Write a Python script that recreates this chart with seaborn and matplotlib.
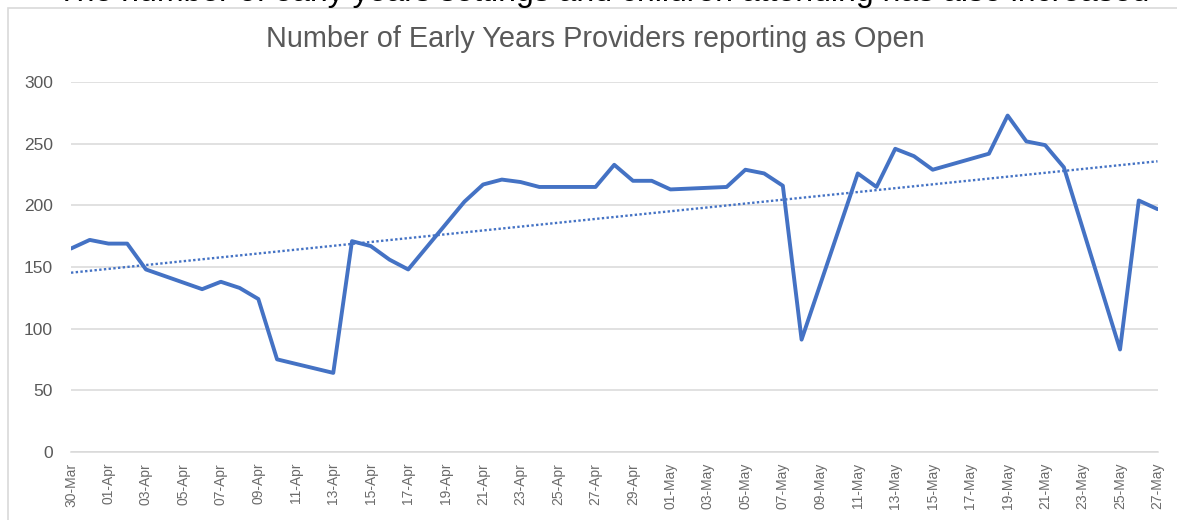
import pandas as pd
import matplotlib.pyplot as plt
from matplotlib.patches import Rectangle
import seaborn as sns

# Daily counts (weekdays only)
dates = [
    '2020-03-30', '2020-03-31', '2020-04-01', '2020-04-02', '2020-04-03',
    '2020-04-06', '2020-04-07', '2020-04-08', '2020-04-09', '2020-04-10',
    '2020-04-13', '2020-04-14', '2020-04-15', '2020-04-16', '2020-04-17',
    '2020-04-20', '2020-04-21', '2020-04-22', '2020-04-23', '2020-04-24',
    '2020-04-27', '2020-04-28', '2020-04-29', '2020-04-30', '2020-05-01',
    '2020-05-04', '2020-05-05', '2020-05-06', '2020-05-07', '2020-05-08',
    '2020-05-11', '2020-05-12', '2020-05-13', '2020-05-14', '2020-05-15',
    '2020-05-18', '2020-05-19', '2020-05-20', '2020-05-21', '2020-05-22',
    '2020-05-25', '2020-05-26', '2020-05-27',
]
providers = [
    165, 172, 169, 169, 148,
    132, 138, 133, 124, 75,
    64, 171, 167, 156, 148,
    203, 217, 221, 219, 215,
    215, 233, 220, 220, 213,
    215, 229, 226, 216, 91,
    226, 215, 246, 240, 229,
    242, 273, 252, 249, 231,
    83, 204, 197,
]
tick_labels = [
    '30-Mar', '01-Apr', '03-Apr', '05-Apr', '07-Apr', '09-Apr', '11-Apr',
    '13-Apr', '15-Apr', '17-Apr', '19-Apr', '21-Apr', '23-Apr', '25-Apr',
    '27-Apr', '29-Apr', '01-May', '03-May', '05-May', '07-May', '09-May',
    '11-May', '13-May', '15-May', '17-May', '19-May', '21-May', '23-May',
    '25-May', '27-May',
]
y_ticks = [0, 50, 100, 150, 200, 250, 300]

df = pd.DataFrame({'date': pd.to_datetime(dates), 'providers': providers})
df['day'] = (df['date'] - df['date'].iloc[0]).dt.days

sns.set_style('white')
plt.rcParams['font.family'] = ['Liberation Sans', 'DejaVu Sans']

blue = '#4472C4'
grey_txt = '#595959'
grey_line = '#D9D9D9'

W, H = 1177, 520
fig = plt.figure(figsize=(W / 100, H / 100), dpi=100)
ax = fig.add_axes([71 / W, 1 - 451.7 / H, (1157.5 - 71) / W, (451.7 - 82.3) / H])

sns.lineplot(data=df, x='day', y='providers', color=blue, linewidth=2.8, ax=ax)
# linear trendline over the date axis
sns.regplot(data=df, x='day', y='providers', scatter=False, ci=None, color=blue,
            line_kws=dict(linestyle=(0, (1, 1)), linewidth=1.7), ax=ax)

ax.set_xlim(0, 58)
ax.set_ylim(0, 300)
ax.set_xticks(range(0, 59, 2))
ax.set_xticklabels(tick_labels, rotation=90)
ax.set_yticks(y_ticks)
ax.set_xlabel('')
ax.set_ylabel('')

ax.set_axisbelow(True)
ax.yaxis.grid(True, color=grey_line, linewidth=1.1)
ax.xaxis.grid(False)
for side in ['left', 'top', 'right']:
    ax.spines[side].set_visible(False)
ax.spines['bottom'].set_color(grey_line)
ax.spines['bottom'].set_linewidth(1.1)

ax.tick_params(axis='x', length=3, width=1, color=grey_line, pad=5,
               labelsize=10, labelcolor='#6b6b6b')
ax.tick_params(axis='y', length=0, pad=13, labelsize=12.5, labelcolor=grey_txt)

# chart frame and title
fig.patches.append(Rectangle((8 / W, -0.1), 1.2, 1 - 8 / H + 0.1, transform=fig.transFigure,
                             fill=False, edgecolor=grey_line, linewidth=1.2))
fig.text(595 / W, 1 - 47 / H, 'Number of Early Years Providers reporting as Open',
         ha='center', va='baseline', fontsize=20.8, color=grey_txt)

# cut-off line of surrounding document text
fig.text(57 / W, 1 - 1 / H,
         'The number of early years settings and children attending has also increased',
         ha='left', va='baseline', fontsize=23, color='black')

fig.savefig('out.png', dpi=100)
